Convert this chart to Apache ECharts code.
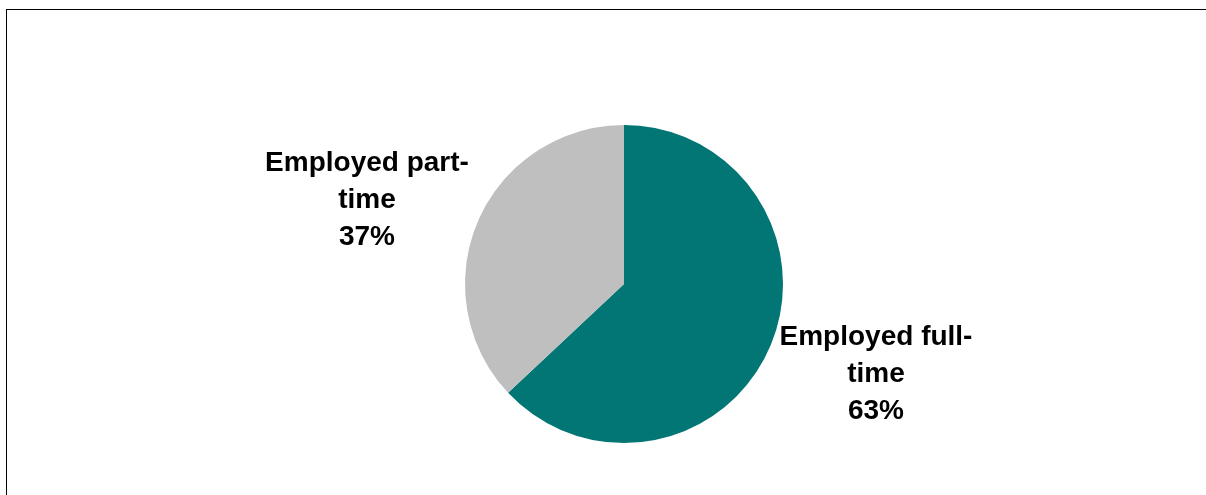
<!DOCTYPE html>
<html>
<head>
<meta charset="utf-8">
<script src="https://cdn.jsdelivr.net/npm/echarts@6/dist/echarts.min.js"></script>
<style>
  html, body { margin: 0; padding: 0; background: #fff; overflow: hidden; }
  #frame {
    position: absolute; left: 6px; top: 9px; width: 1400px; height: 700px;
    border-top: 1.5px solid #000; border-left: 1.5px solid #000;
  }
  #chart { position: absolute; left: 0; top: 0; width: 1206px; height: 495px; }
</style>
</head>
<body>
<div id="frame"></div>
<div id="chart"></div>
<script>
const categories = ['Employed full-\ntime', 'Employed part-\ntime']
const shares = [63, 37]
const colors = ['#027675', '#BFBFBF']
// label anchor points (px) for each slice label
const labelSpots = [[876, 374], [367, 200]]

const chart = echarts.init(document.getElementById('chart'))
chart.setOption({
  animation: false,
  series: [{
    type: 'pie',
    center: [624, 284],
    radius: 159,
    startAngle: 90,
    clockwise: true,
    data: categories.map((name, i) => ({
      name: name,
      value: shares[i],
      itemStyle: { color: colors[i] }
    })),
    label: {
      show: true,
      formatter: '{b}\n{c}%',
      fontFamily: 'Liberation Sans, Arial, sans-serif',
      fontWeight: 'bold',
      fontSize: 28,
      lineHeight: 37,
      color: '#000',
      align: 'center'
    },
    labelLine: { show: false },
    labelLayout: function (params) {
      const p = labelSpots[params.dataIndex]
      return { x: p[0], y: p[1], align: 'center', verticalAlign: 'middle' }
    }
  }]
})
</script>
</body>
</html>
